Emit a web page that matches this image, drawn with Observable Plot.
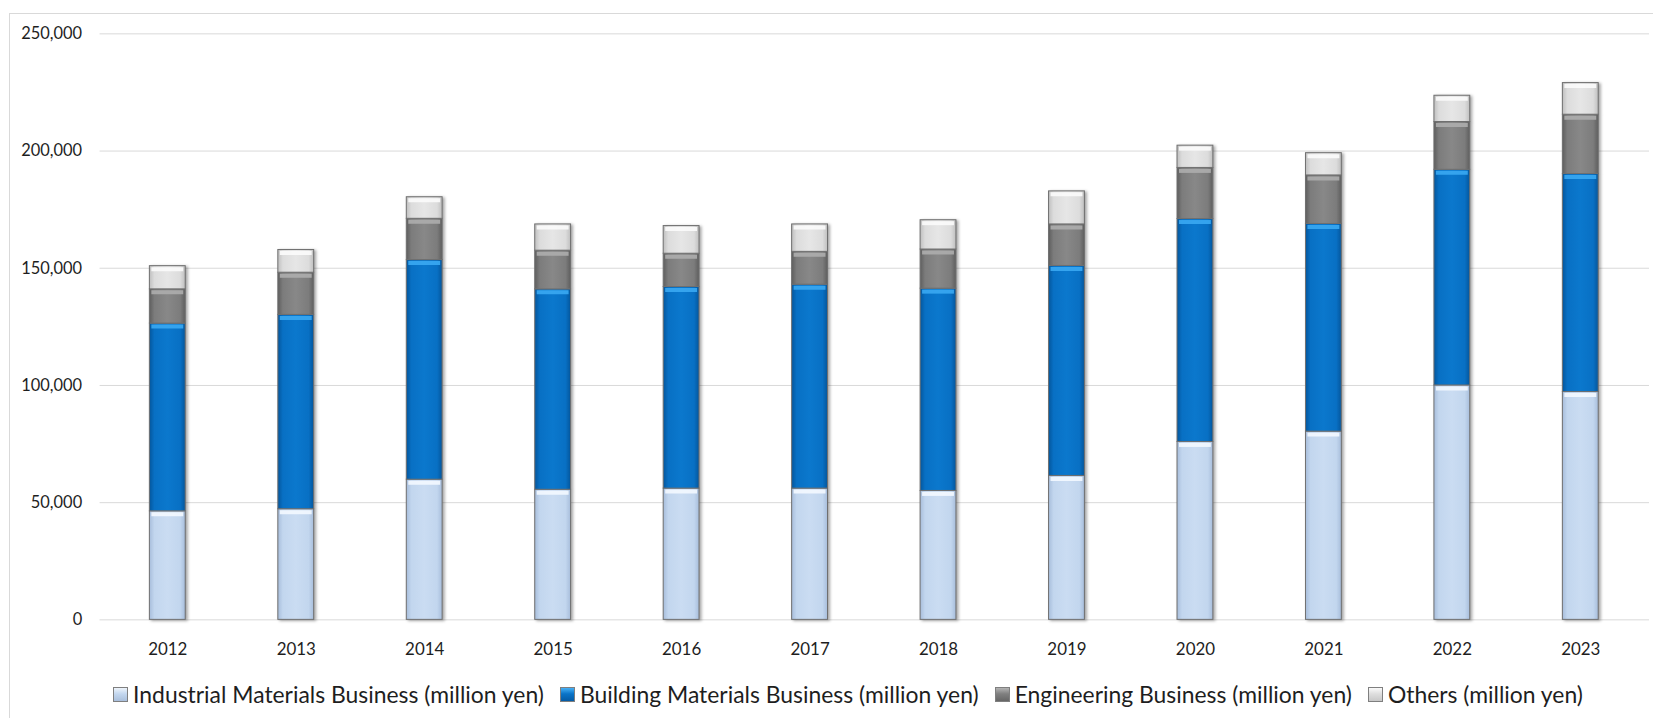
<!DOCTYPE html>
<html><head><meta charset="utf-8">
<script src="https://cdn.jsdelivr.net/npm/d3@7"></script>
<script src="https://cdn.jsdelivr.net/npm/@observablehq/plot@0.6"></script>
<style>
html,body{margin:0;padding:0;background:#fff;overflow:hidden;width:1653px;height:718px}
#wrap{position:relative;width:1653px;height:718px;overflow:hidden;font-family:Lato,"Noto Sans",sans-serif}
#frame{position:absolute;left:9px;top:13px;width:2000px;height:2000px;border-left:1px solid #d9d9d9;border-top:1px solid #d9d9d9;box-sizing:border-box}
#chart{position:absolute;left:0;top:0}
#legend{position:absolute;top:672px;left:0;width:1696px;height:44px;display:flex;justify-content:center;align-items:center;gap:16px;font-size:22.9px;color:#1e1e1e;white-space:nowrap}
.item{display:flex;align-items:center}
.sw{width:15px;height:15px;margin-right:5px;box-sizing:border-box;border:1px solid #7f7f7f}
</style></head><body>
<div id="wrap"><div id="frame"></div><div id="chart"></div><div id="legend"></div></div>
<script>
// ---- data (million yen) ----
const years = ["2012","2013","2014","2015","2016","2017","2018","2019","2020","2021","2022","2023"];
const seriesNames = [
  "Industrial Materials Business (million yen)",
  "Building Materials Business (million yen)",
  "Engineering Business (million yen)",
  "Others (million yen)"
];
const industrial  = [46300, 47200, 59800, 55500, 56000, 56000, 55000, 61400, 75900, 80300, 100000, 97200];
const building    = [80100, 82900, 93700, 85500, 86000, 87000, 86300, 89600, 95100, 88600, 92000, 93000];
const engineering = [14600, 18000, 17600, 16500, 14200, 14000, 16700, 17700, 21800, 20700, 20400, 25300];
const others      = [9900, 9700, 9200, 11200, 11800, 11700, 12500, 14100, 9500, 9500, 11200, 13500];
const yTicks = [0, 50000, 100000, 150000, 200000, 250000];

// ---- styles ----
const gradIds = ["g-ind", "g-bld", "g-eng", "g-oth"];
const gradStops = [
  ["#a7bddb", "#c2d6ee", "#cadcf2"],
  ["#04569c", "#0870c4", "#0b78cd"],
  ["#5e5e5e", "#7c7c7c", "#888888"],
  ["#bfbfbf", "#dcdcdc", "#e6e6e6"]
];
const highlight = ["#f3f8ff", "#3aa9f2", "#adadad", "#fbfbfb"];
const swatchCss = [
  "linear-gradient(#eef4fb,#c3d7ef 45%,#a9bfdc)",
  "linear-gradient(#47b0f5,#0a74c8 45%,#055ba5)",
  "linear-gradient(#b3b3b3,#808080 45%,#666)",
  "linear-gradient(#fafafa,#dedede 45%,#c8c8c8)"
];

const all = [industrial, building, engineering, others];
const table = [];
years.forEach((yr, i) => {
  seriesNames.forEach((s, k) => table.push({year: yr, series: s, k, value: all[k][i]}));
});

const chart = Plot.plot({
  width: 1660,
  height: 672,
  marginLeft: 100,
  marginRight: 4,
  marginTop: 33.5,
  marginBottom: 50,
  style: {background: "transparent", fontFamily: "Lato, 'Noto Sans', sans-serif", fontSize: "16.5px", color: "#1e1e1e"},
  x: {domain: years, paddingInner: 0.72, paddingOuter: 0.36, label: null},
  y: {domain: [0, 250000], label: null},
  color: {type: "identity"},
  marks: [
    Plot.gridY(yTicks, {stroke: "#d9d9d9", strokeOpacity: 1, strokeWidth: 1}),
    Plot.axisY(yTicks, {tickSize: 0, tickPadding: 18, tickFormat: d3.format(","), label: null}),
    Plot.axisX({tickSize: 0, tickPadding: 23, label: null, fontSize: "17px"}),
    Plot.barY(table, Plot.stackY({
      x: "year", y: "value", z: "series", order: seriesNames,
      fill: d => `url(#${gradIds[d.k]})`,
      stroke: "#6f6f6f", strokeWidth: 1
    })),
    Plot.tickY(table, Plot.stackY2({
      x: "year", y: "value", z: "series", order: seriesNames,
      stroke: d => highlight[d.k], strokeWidth: 4, strokeOpacity: 0.9,
      dy: 3, insetLeft: 2, insetRight: 2
    }))
  ]
});

// gradients
const defs = d3.select(chart).insert("defs", ":first-child");
gradIds.forEach((id, k) => {
  const [e, m, c] = gradStops[k];
  const g = defs.append("linearGradient").attr("id", id).attr("x1", 0).attr("x2", 1).attr("y1", 0).attr("y2", 0);
  [[0, e], [0.14, m], [0.5, c], [0.86, m], [1, e]].forEach(([o, col]) =>
    g.append("stop").attr("offset", o).attr("stop-color", col));
});
const barG = chart.querySelector('g[aria-label="bar"]');
if (barG) barG.style.filter = "drop-shadow(2px 1px 1.5px rgba(0,0,0,0.35))";

document.getElementById("chart").appendChild(chart);

// legend
const leg = document.getElementById("legend");
seriesNames.forEach((s, k) => {
  const it = document.createElement("div");
  it.className = "item";
  const sw = document.createElement("span");
  sw.className = "sw";
  sw.style.background = swatchCss[k];
  const tx = document.createElement("span");
  tx.textContent = s;
  it.appendChild(sw); it.appendChild(tx);
  leg.appendChild(it);
});
</script>
</body></html>
